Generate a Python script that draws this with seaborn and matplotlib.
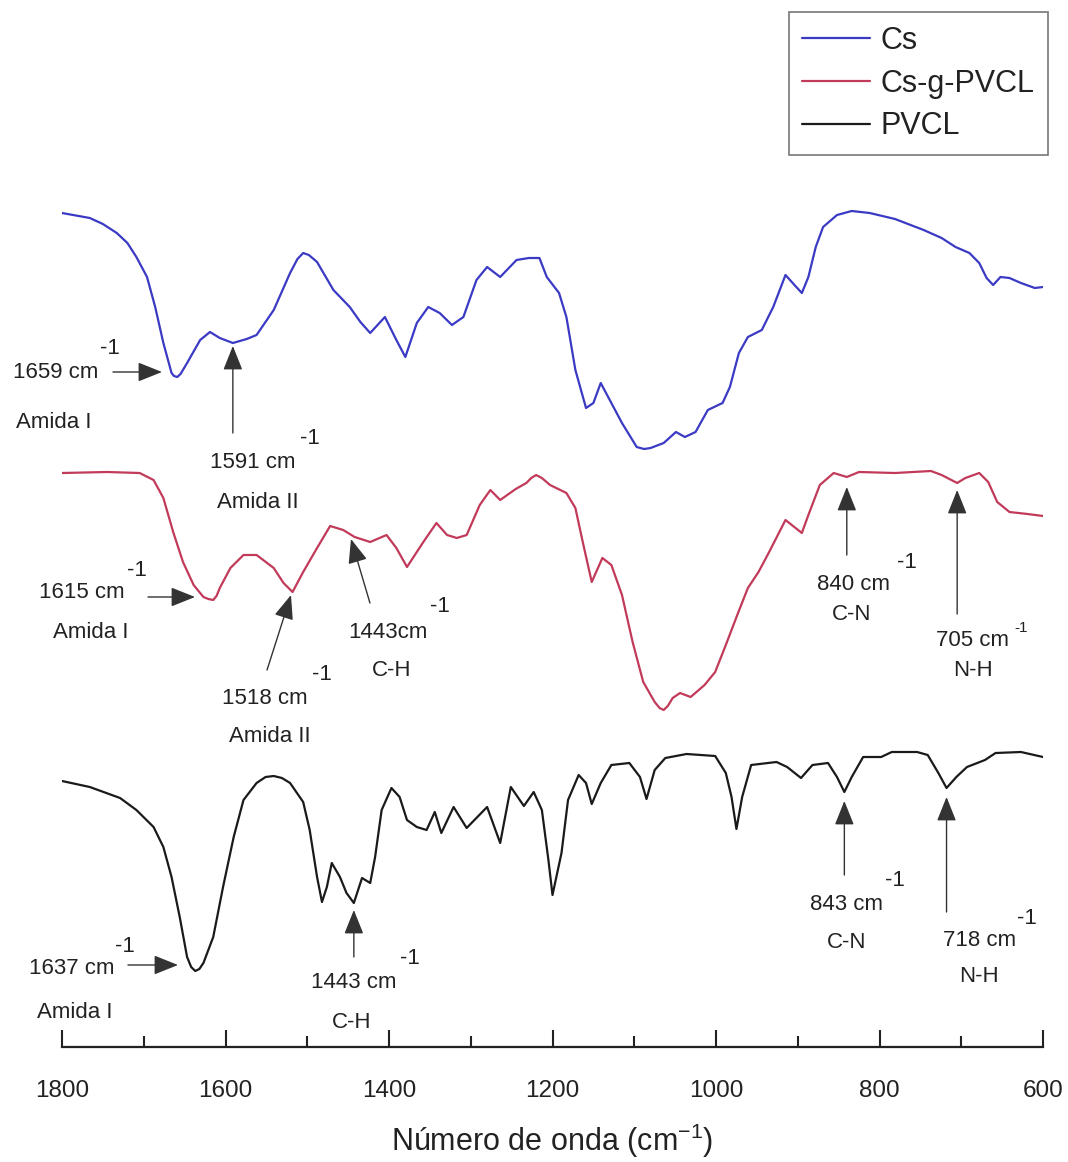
import matplotlib
matplotlib.use("Agg")
import matplotlib.pyplot as plt
import pandas as pd
import seaborn as sns

# FTIR spectra: wavenumber (cm-1) and stacked transmittance (a.u., offset per sample)
cs_wn = [1800, 1766, 1750, 1733, 1720, 1709, 1696, 1686, 1676, 1666, 1663, 1659, 1655, 1647,
         1631, 1619, 1607, 1591, 1574, 1562, 1541, 1521, 1512, 1505, 1498, 1488,
         1468, 1448, 1435, 1423, 1405, 1391, 1380, 1366, 1352, 1338,
         1323, 1309, 1293, 1280, 1264, 1244, 1229, 1216, 1207, 1192,
         1183, 1172, 1159, 1150, 1141, 1128, 1115, 1097, 1088, 1080, 1064,
         1049, 1038, 1025, 1010, 992, 983, 972, 961, 944, 930,
         915, 904, 895, 887, 878, 869, 852, 834, 812, 781,
         746, 724, 707, 690, 678, 669, 661, 652, 641, 627,
         610, 600]
cs_t = [83.4, 82.9, 82.3, 81.4, 80.4, 79.0, 77.0, 74.0, 70.4, 67.4, 67.1, 67.0, 67.3, 68.4,
        70.7, 71.5, 70.9, 70.4, 70.8, 71.2, 73.7, 77.4, 78.8, 79.4, 79.2, 78.5,
        75.7, 74.0, 72.5, 71.4, 73.0, 70.7, 69.0, 72.4, 74.0, 73.4,
        72.2, 73.0, 76.7, 78.0, 77.0, 78.7, 78.9, 78.9, 77.0, 75.4,
        73.0, 67.7, 63.9, 64.4, 66.4, 64.4, 62.4, 60.0, 59.8, 59.9, 60.4,
        61.5, 61.0, 61.5, 63.7, 64.4, 66.0, 69.4, 71.0, 71.7, 74.0,
        77.2, 76.2, 75.4, 77.0, 80.0, 82.0, 83.2, 83.6, 83.4, 82.8,
        81.7, 80.9, 80.0, 79.4, 78.4, 76.9, 76.2, 77.0, 76.9, 76.4,
        75.9, 76.0]

gp_wn = [1800, 1745, 1705, 1688, 1676, 1664, 1652, 1639, 1627, 1621, 1615, 1611,
         1607, 1594, 1578, 1562, 1541, 1529, 1518, 1505, 1488, 1472,
         1456, 1442, 1423, 1403, 1391, 1378, 1358, 1342, 1329, 1317,
         1305, 1289, 1276, 1264, 1245, 1232, 1226, 1220, 1213, 1203, 1183, 1172,
         1163, 1152, 1139, 1128, 1115, 1102, 1089, 1075, 1069, 1064, 1059, 1053,
         1044, 1031, 1014, 1001, 988, 974, 961, 948, 935, 915,
         895, 887, 873, 856, 840, 825, 781, 737, 724, 705,
         695, 678, 667, 656, 641, 619, 600]
gp_t = [57.4, 57.5, 57.4, 56.7, 54.9, 51.5, 48.5, 46.2, 45.0, 44.8, 44.7, 45.1,
        45.9, 47.9, 49.2, 49.2, 47.9, 46.4, 45.5, 47.5, 49.9, 52.1,
        51.7, 51.0, 50.5, 51.2, 49.9, 48.0, 50.5, 52.4, 51.2, 50.9,
        51.2, 54.2, 55.7, 54.7, 55.8, 56.4, 56.9, 57.2, 56.9, 56.2, 55.4, 53.9,
        50.5, 46.5, 48.9, 48.2, 45.2, 40.5, 36.5, 34.5, 33.9, 33.7, 34.1, 34.9,
        35.4, 35.0, 36.2, 37.5, 40.2, 43.2, 45.9, 47.5, 49.5, 52.7,
        51.4, 53.2, 56.2, 57.4, 57.0, 57.5, 57.4, 57.6, 57.2, 56.4,
        56.9, 57.4, 56.5, 54.5, 53.5, 53.3, 53.1]

pv_wn = [1800, 1766, 1729, 1709, 1688, 1676, 1666, 1656, 1647, 1642, 1637, 1632,
         1627, 1615, 1603, 1590, 1578, 1562, 1551, 1541, 1531, 1521, 1505, 1497,
         1488, 1482, 1476, 1470, 1460, 1452, 1443, 1433, 1423, 1417,
         1409, 1397, 1387, 1378, 1366, 1354, 1344, 1336, 1321, 1305,
         1280, 1264, 1251, 1235, 1223, 1213, 1205, 1200, 1189, 1181,
         1168, 1159, 1152, 1141, 1128, 1106, 1093, 1085, 1075, 1062,
         1036, 1001, 988, 981, 975, 968, 957, 926, 913, 896,
         882, 863, 852, 843, 834, 820, 798, 785, 754, 741,
         728, 718, 706, 693, 671, 658, 627, 600]
pv_t = [26.6, 26.0, 24.9, 23.7, 22.0, 20.0, 17.0, 13.0, 9.0, 8.0, 7.6, 7.8,
        8.4, 11.0, 16.0, 21.0, 24.7, 26.4, 27.0, 27.1, 26.9, 26.4, 24.5, 21.7,
        17.0, 14.5, 16.0, 18.4, 17.0, 15.4, 14.4, 16.9, 16.4, 19.0,
        23.7, 25.9, 25.0, 22.7, 22.0, 21.7, 23.5, 21.4, 24.0, 21.9,
        24.0, 20.4, 26.0, 24.1, 25.5, 23.7, 18.7, 15.2, 19.4, 24.7,
        27.2, 26.4, 24.3, 26.4, 28.2, 28.4, 27.0, 24.8, 27.7, 28.9,
        29.3, 29.1, 27.4, 25.0, 21.8, 25.0, 28.2, 28.5, 28.0, 26.9,
        28.2, 28.4, 27.0, 25.5, 27.0, 29.0, 29.0, 29.5, 29.5, 29.2,
        27.4, 25.9, 27.0, 28.0, 28.7, 29.4, 29.5, 29.0]

samples = ["Cs", "Cs-g-PVCL", "PVCL"]
colors = ["#3a3ac4", "#c23a5a", "#1a1a1a"]
x_ticks = [1800, 1600, 1400, 1200, 1000, 800, 600]
x_minor = [1700, 1500, 1300, 1100, 900, 700]

# Band assignments: (label, band, arrow tail, arrow tip, label pos, superscript pos, band pos, superscript size)
bands = [
    ("1659 cm", "Amida I", (1737.6, 67.5), (1677.7, 67.5), (1807.3, 67.5), (1741.3, 69.8), (1809.8, 62.5), 16),
    ("1591 cm", "Amida II", (1591, 61.4), (1591, 70.1), (1566.4, 58.4), (1496.7, 60.8), (1560.3, 54.4), 16),
    ("1615 cm", "Amida I", (1694.8, 45.0), (1637.3, 45.0), (1775.5, 45.4), (1708.3, 47.7), (1764.5, 41.4), 16),
    ("1518 cm", "Amida II", (1549.2, 37.7), (1519.9, 45.2), (1551.7, 34.9), (1481.9, 37.2), (1545.6, 31.0), 16),
    ("1443cm", "C-H", (1423.3, 44.4), (1446.5, 50.8), (1401.2, 41.4), (1337.6, 44.0), (1396.3, 37.6), 16),
    ("840 cm", "C-N", (840, 49.2), (840, 56.0), (832.4, 46.3), (766.4, 48.5), (833.6, 43.3), 16),
    ("705 cm", "N-H", (705, 43.3), (705, 55.7), (685.7, 40.7), (626.9, 41.9), (685.7, 37.7), 11),
    ("1637 cm", "Amida I", (1719.3, 8.2), (1658.1, 8.2), (1787.8, 7.9), (1722.9, 10.1), (1784.1, 3.5), 16),
    ("1443 cm", "C-H", (1443, 9.0), (1443, 13.7), (1442.8, 6.5), (1374.3, 8.8), (1445.3, 2.5), 16),
    ("843 cm", "C-N", (843, 17.2), (843, 24.6), (839.8, 14.2), (781.1, 16.6), (839.8, 10.5), 16),
    ("718 cm", "N-H", (718, 13.5), (718, 25.0), (677.1, 10.7), (619.6, 12.8), (678.3, 7.0), 16),
]

frames = []
for name, wn, t in zip(samples, [cs_wn, gp_wn, pv_wn], [cs_t, gp_t, pv_t]):
    frames.append(pd.DataFrame({"wn": wn, "t": t, "muestra": name}))
df = pd.concat(frames, ignore_index=True)

sns.set_theme(style="white")
plt.rcParams["font.family"] = ["Liberation Sans", "DejaVu Sans"]
plt.rcParams["mathtext.fontset"] = "custom"
plt.rcParams["mathtext.rm"] = "Liberation Sans"
plt.rcParams["mathtext.default"] = "regular"

W, H = 1068, 1162
fig = plt.figure(figsize=(W / 100, H / 100), dpi=100)
fig.patch.set_facecolor("white")
ax = fig.add_axes([62 / W, 115 / H, 981 / W, 1047 / H])

sns.lineplot(data=df, x="wn", y="t", hue="muestra", hue_order=samples,
             palette=dict(zip(samples, colors)), sort=False, estimator=None,
             linewidth=1.6, ax=ax)
for line in ax.get_lines():
    line.set_solid_joinstyle("round")

ax.set_xlim(1800, 600)
ax.set_ylim(0, 104.7)
ax.set_facecolor("white")
for side in ["left", "right", "top"]:
    ax.spines[side].set_visible(False)
ax.spines["bottom"].set_color("#222222")
ax.spines["bottom"].set_linewidth(1.6)
ax.set_yticks([])
ax.set_ylabel("")
ax.set_xticks(x_ticks)
ax.set_xticks(x_minor, minor=True)
ax.set_xticklabels([str(v) for v in x_ticks])
ax.tick_params(axis="x", which="major", direction="in", length=12, width=1.5,
               color="#222222", pad=24, labelsize=17.5, labelcolor="#222222",
               bottom=True)
ax.tick_params(axis="x", which="minor", direction="in", length=8, width=1.5,
               color="#222222", bottom=True)
ax.set_xlabel("Número de onda (cm$^{-1}$)", fontsize=22, color="#222222",
              labelpad=14)

txt = dict(color="#222222", ha="center", va="center")
for label, band, tail, tip, lpos, spos, bpos, ssize in bands:
    ax.annotate("", xy=tip, xytext=tail,
                arrowprops=dict(arrowstyle="-|>,head_length=0.75,head_width=0.3",
                                mutation_scale=20, lw=1.0, color="#333333",
                                facecolor="#111111", shrinkA=0, shrinkB=0))
    ax.text(lpos[0], lpos[1], label, fontsize=16, **txt)
    ax.text(spos[0], spos[1], "-1", fontsize=ssize, **txt)
    ax.text(bpos[0], bpos[1], band, fontsize=16, **txt)

handles, labels = ax.get_legend_handles_labels()
leg = ax.legend(handles, labels, loc="upper right",
                bbox_to_anchor=(1048 / W, 1 - 12 / H), bbox_transform=fig.transFigure,
                frameon=True, fancybox=False, fontsize=22, handlelength=2.2,
                handletextpad=0.35, labelspacing=0.42, borderpad=0.45,
                borderaxespad=0)
leg.get_frame().set_edgecolor("#555555")
leg.get_frame().set_linewidth(1.2)
for t in leg.get_texts():
    t.set_color("#222222")

fig.savefig("out.png", dpi=100, facecolor="white")
